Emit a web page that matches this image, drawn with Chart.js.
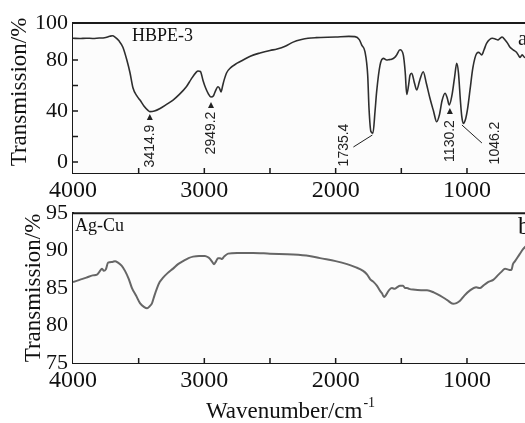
<!DOCTYPE html>
<html>
<head>
<meta charset="utf-8">
<title>FTIR spectra</title>
<script src="https://cdn.jsdelivr.net/npm/chart.js@4/dist/chart.umd.min.js"></script>
<style>
  html, body { margin: 0; padding: 0; background: #fff; overflow: hidden; }
  body { width: 525px; height: 423px; position: relative; }
  canvas { position: absolute; left: 0; }
  #topChart { top: 0; }
  #botChart { top: 195px; }
</style>
</head>
<body>
<canvas id="topChart" width="545" height="208"></canvas>
<canvas id="botChart" width="545" height="228"></canvas>
<script>
// spectrum a: HBPE-3 (wavenumber / transmission %)
const topWaves = [4000, 3950, 3900, 3850, 3800, 3760, 3720, 3700, 3680, 3650, 3620, 3590, 3566, 3543, 3515, 3490, 3460, 3429, 3415, 3380, 3337, 3290, 3238, 3190, 3137, 3100, 3061, 3048, 3030, 3010, 2990, 2972, 2950, 2930, 2918, 2896, 2885, 2873, 2860, 2850, 2830, 2804, 2750, 2705, 2650, 2576, 2500, 2446, 2380, 2324, 2260, 2210, 2150, 2000, 1900, 1853, 1820, 1802, 1777, 1756, 1746, 1731, 1716, 1700, 1688, 1662, 1637, 1612, 1590, 1574, 1550, 1535, 1510, 1485, 1470, 1459, 1445, 1434, 1421, 1400, 1383, 1360, 1333, 1310, 1282, 1255, 1231, 1210, 1190, 1167, 1150, 1135, 1115, 1095, 1078, 1065, 1050, 1040, 1028, 1010, 995, 977, 955, 926, 910, 888, 870, 851, 806, 785, 764, 748, 733, 710, 690, 672, 649, 623, 610, 596, 580, 560, 530, 500, 450];
const topTrans = [97, 96.8, 97.1, 96.9, 97.2, 97.4, 98.6, 99, 98, 95, 90, 80, 70, 58, 52, 48.6, 44, 40.5, 39.5, 40, 42, 45, 48.6, 53, 59, 65, 70.5, 71.4, 71, 64, 58, 54, 51, 52, 55, 59, 58, 55, 60, 64, 70, 73.5, 77.5, 80, 83, 85.5, 87.5, 88.6, 91, 94, 96, 97, 97.5, 98, 98.5, 98.3, 96, 91.8, 86.5, 68, 42, 23.8, 22.7, 40, 55, 76, 81.3, 80, 80.3, 80.5, 82, 84, 88, 84, 70, 53, 60, 68, 69.6, 62, 56.5, 64, 70.8, 62, 50, 40, 31.6, 37, 48, 53.9, 50, 44.7, 52, 66, 77.4, 70, 48, 36, 30.3, 34, 42, 56.5, 74, 85.2, 86, 84, 88, 93, 97, 96.5, 95.7, 97, 98, 95.7, 93, 90, 88, 86, 84, 82, 84, 82, 83, 82, 80];

// spectrum b: Ag-Cu
const botWaves = [4000, 3950, 3898, 3850, 3817, 3790, 3779, 3765, 3750, 3733, 3700, 3680, 3657, 3630, 3604, 3575, 3551, 3520, 3490, 3460, 3436, 3415, 3398, 3380, 3360, 3340, 3314, 3280, 3238, 3200, 3162, 3120, 3086, 3040, 2995, 2970, 2957, 2940, 2926, 2910, 2896, 2880, 2865, 2850, 2819, 2750, 2629, 2500, 2324, 2200, 2119, 2000, 1913, 1850, 1791, 1760, 1738, 1710, 1685, 1660, 1647, 1632, 1620, 1609, 1590, 1571, 1550, 1533, 1510, 1487, 1470, 1456, 1440, 1411, 1350, 1304, 1250, 1205, 1150, 1106, 1080, 1053, 1020, 977, 930, 901, 878, 840, 800, 760, 736, 710, 690, 672, 660, 650, 634, 600, 573, 540, 500, 450];
const botTrans = [85.8, 86.1, 86.4, 86.7, 86.8, 87.4, 87.6, 87.3, 87.5, 88.4, 88.5, 88.6, 88.4, 88, 87.3, 86.2, 85, 84, 83, 82.5, 82.3, 82.6, 83, 84, 85, 85.8, 86.4, 87, 87.6, 88.2, 88.6, 89, 89.2, 89.3, 89.3, 89.1, 88.9, 88.5, 88.2, 88.6, 89, 89, 88.9, 89.2, 89.6, 89.7, 89.7, 89.6, 89.5, 89.3, 89, 88.6, 88.2, 87.8, 87.3, 86.8, 86.2, 85.8, 85.3, 84.6, 84.3, 83.8, 84, 84.3, 84.8, 85, 84.9, 85.1, 85.3, 85.3, 85, 85, 84.9, 84.8, 84.7, 84.7, 84.4, 84, 83.4, 82.9, 83, 83.3, 84, 84.7, 85.1, 85, 85.3, 85.8, 86.1, 86.8, 87.2, 87.6, 87.5, 87.4, 87.5, 88.2, 88.6, 89.5, 90.2, 90.8, 91.5, 92.3];

const xTickLabels = [4000, 3000, 2000, 1000];
const xInnerTicks = [3500, 3000, 2500, 2000, 1500, 1000, 500];
const topYTicks = [0, 40, 80, 100];
const topYInner = [0, 20, 40, 60, 80];
const botYTicks = [75, 80, 85, 90, 95];

const peakLabels = ['3414.9', '2949.2', '1735.4', '1130.2', '1046.2'];
const peakWaves = [3414.9, 2949.2, 1735.4, 1130.2, 1046.2];

// how each peak label is drawn (pixel offsets from the peak's x position)
const peakStyle = [
  { kind: 'arrow', tipY: 114, textY: 146 },
  { kind: 'arrow', tipY: 102, textY: 133 },
  { kind: 'leader', textDx: -26, textY: 145, from: [-17, 147], to: [2, 135] },
  { kind: 'arrow', tipY: 108, textY: 141 },
  { kind: 'leader', textDx: 34, textY: 143, from: [1, 125], to: [21, 143] }
];

const SERIF = '"Liberation Serif", "Times New Roman", serif';
const SANS = '"Liberation Sans", Arial, sans-serif';
const X_MIN = 444, X_MAX = 4000;

const framePlugin = {
  id: 'frame',
  beforeDatasetsDraw(chart) {
    const { ctx, chartArea: a } = chart;
    ctx.save();
    ctx.fillStyle = '#fcfcfc';
    ctx.fillRect(a.left, a.top, a.right - a.left, a.bottom - a.top);
    ctx.restore();
  },
  afterDraw(chart, args, opts) {
    const { ctx, chartArea: a } = chart;
    const xs = chart.scales.x, ys = chart.scales.y;
    ctx.save();
    ctx.strokeStyle = '#1a1a1a';
    ctx.lineWidth = 2;
    ctx.beginPath();
    ctx.moveTo(a.left - 1, a.top);
    ctx.lineTo(a.right + 5, a.top);
    ctx.stroke();

    // inward tick marks
    ctx.lineWidth = 1.5;
    ctx.beginPath();
    xInnerTicks.forEach(v => {
      const px = xs.getPixelForValue(v);
      if (px > a.right) return;
      ctx.moveTo(px, a.bottom);
      ctx.lineTo(px, a.bottom - 5);
    });
    (opts.yInner || []).forEach(v => {
      const py = ys.getPixelForValue(v);
      ctx.moveTo(a.left, py);
      ctx.lineTo(a.left + 5, py);
    });
    ctx.stroke();

    ctx.fillStyle = '#111';
    // y title
    ctx.save();
    ctx.translate(opts.yTitleX, opts.yTitleY);
    ctx.rotate(-Math.PI / 2);
    ctx.font = '23px ' + SERIF;
    ctx.textAlign = 'center';
    ctx.textBaseline = 'middle';
    ctx.fillText('Transmission/%', 0, 0);
    ctx.restore();

    // panel labels
    ctx.textBaseline = 'middle';
    ctx.textAlign = 'left';
    ctx.font = '18px ' + SERIF;
    ctx.fillText(opts.name, opts.nameX, opts.nameY);
    ctx.font = opts.letterSize + 'px ' + SERIF;
    ctx.fillText(opts.letter, 518, opts.nameY + opts.letterDy);

    if (opts.peaks) {
      ctx.font = '14px ' + SANS;
      ctx.strokeStyle = '#222';
      ctx.fillStyle = '#222';
      ctx.lineWidth = 1;
      peakWaves.forEach((w, i) => {
        const st = peakStyle[i];
        const px = xs.getPixelForValue(w);
        let tx = px;
        if (st.kind === 'arrow') {
          ctx.beginPath();
          ctx.moveTo(px, st.tipY);
          ctx.lineTo(px - 3, st.tipY + 6);
          ctx.lineTo(px + 3, st.tipY + 6);
          ctx.closePath();
          ctx.fill();
        } else {
          tx = px + st.textDx;
          ctx.beginPath();
          ctx.moveTo(px + st.from[0], st.from[1]);
          ctx.lineTo(px + st.to[0], st.to[1]);
          ctx.stroke();
        }
        ctx.save();
        ctx.translate(tx, st.textY);
        ctx.rotate(-Math.PI / 2);
        ctx.textAlign = 'center';
        ctx.textBaseline = 'middle';
        ctx.fillText(peakLabels[i], 0, 0);
        ctx.restore();
      });
    }

    if (opts.xTitle) {
      ctx.fillStyle = '#111';
      ctx.font = '23px ' + SERIF;
      ctx.textBaseline = 'alphabetic';
      ctx.textAlign = 'left';
      const main = 'Wavenumber/cm';
      const w1 = ctx.measureText(main).width;
      ctx.font = '14px ' + SERIF;
      const w2 = ctx.measureText('-1').width;
      const x0 = opts.xTitle.cx - (w1 + w2) / 2;
      ctx.font = '23px ' + SERIF;
      ctx.fillText(main, x0, opts.xTitle.y);
      ctx.font = '14px ' + SERIF;
      ctx.fillText('-1', x0 + w1 + 1, opts.xTitle.y - 11);
    }
    ctx.restore();
  }
};

function buildChart(id, waves, trans, cfg) {
  const points = waves.map((w, i) => ({ x: w, y: trans[i] }));
  return new Chart(document.getElementById(id), {
    type: 'line',
    data: {
      datasets: [{
        data: points,
        borderColor: cfg.lineColor,
        borderWidth: cfg.lineWidth,
        pointRadius: 0,
        fill: false,
        cubicInterpolationMode: 'monotone'
      }]
    },
    options: {
      responsive: false,
      animation: false,
      events: [],
      layout: { padding: { left: 0, right: 5, top: cfg.padTop, bottom: 0 } },
      plugins: {
        legend: { display: false },
        tooltip: { enabled: false },
        frame: cfg.frame
      },
      scales: {
        x: {
          type: 'linear',
          reverse: true,
          min: X_MIN,
          max: X_MAX,
          afterBuildTicks: s => { s.ticks = xTickLabels.map(v => ({ value: v })); },
          afterFit: s => { s.height = cfg.xAxisHeight; },
          grid: { display: false, drawTicks: false },
          border: { display: true, color: '#1a1a1a', width: 2 },
          ticks: {
            font: { family: SERIF, size: 24 },
            color: '#111',
            padding: cfg.xTickPad,
            maxRotation: 0,
            autoSkip: false,
            callback: v => String(v)
          }
        },
        y: {
          min: cfg.yMin,
          max: cfg.yMax,
          afterBuildTicks: s => {
            s.ticks = cfg.yTicks.map(v => ({ value: v === 100 ? cfg.yMax : v }));
          },
          afterFit: s => { s.width = 73; },
          grid: { display: false, drawTicks: false },
          border: { display: true, color: '#1a1a1a', width: 2 },
          ticks: {
            font: { family: SERIF, size: 22 },
            color: '#111',
            padding: 5,
            autoSkip: false,
            callback: v => (v > 99 ? '100' : String(v))
          }
        }
      }
    },
    plugins: [framePlugin]
  });
}

buildChart('topChart', topWaves, topTrans, {
  lineColor: '#2e2e2e',
  lineWidth: 1.6,
  padTop: 23,
  xAxisHeight: 35,
  xTickPad: 3,
  yMin: -8.6,
  yMax: 109,
  yTicks: topYTicks,
  frame: {
    yInner: topYInner,
    yTitleX: 20, yTitleY: 92,
    name: 'HBPE-3', nameX: 132, nameY: 36,
    letter: 'a', letterSize: 21, letterDy: 3,
    peaks: true
  }
});

buildChart('botChart', botWaves, botTrans, {
  lineColor: '#666',
  lineWidth: 2,
  padTop: 17,
  xAxisHeight: 60,
  xTickPad: 3,
  yMin: 75,
  yMax: 95,
  yTicks: botYTicks,
  frame: {
    yInner: [],
    yTitleX: 34, yTitleY: 93,
    name: 'Ag-Cu', nameX: 75, nameY: 31,
    letter: 'b', letterSize: 25, letterDy: 1,
    xTitle: { cx: 290, y: 223 }
  }
});
</script>
</body>
</html>
